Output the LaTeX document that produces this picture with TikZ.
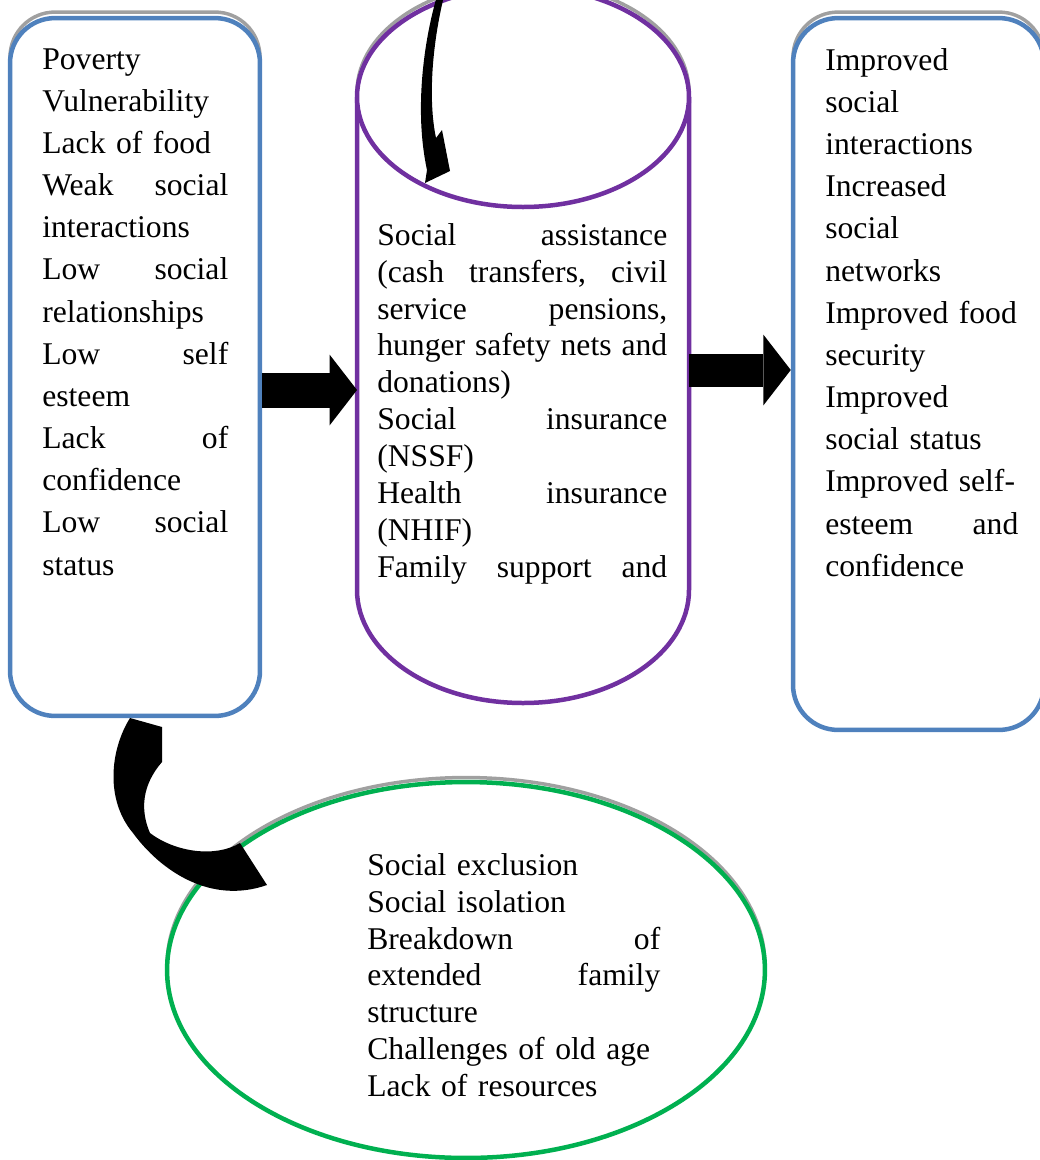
\documentclass[tikz,border=0pt]{standalone}
\usepackage{fontspec}
\setmainfont{Liberation Serif}
\usetikzlibrary{arrows.meta, shadows, shapes.geometric}

\definecolor{boxblue}{HTML}{4F81BD}
\definecolor{progpurple}{HTML}{7030A0}
\definecolor{issuegreen}{HTML}{00B050}
\definecolor{shadowgray}{HTML}{A0A0A0}

\tikzset{
  listbox/.style={draw=boxblue, line width=0.09cm, fill=white, rounded corners=0.9cm, inner sep=0pt,
    general shadow={shadow yshift=0.12cm, draw=shadowgray, line width=0.07cm}},
  issueoval/.style={ellipse, draw=issuegreen, line width=0.09cm, fill=white, inner sep=0pt,
    general shadow={shadow yshift=0.09cm, draw=shadowgray, line width=0.07cm}},
  listtext/.style={anchor=north west, inner sep=0pt, align=left},
  wide/.style={font=\fontsize{18}{24}\selectfont},
  tight/.style={font=\fontsize{18}{21}\selectfont},
  blockarrow/.style={line width=#1, -{Triangle[length=0.55cm, width=1.42cm, line width=0pt]}},
}

\begin{document}
\begin{tikzpicture}[x=0.02cm, y=-0.02cm]
  \useasboundingbox (0,0) rectangle (1039,1160);

  % Boxes:
  \node[listbox, minimum width=5cm, minimum height=13.96cm] (causes) at (135,367) {};
  \node[listbox, minimum width=5.02cm, minimum height=14.24cm] (outcomes) at (918.5,374) {};
  \node[issueoval, minimum width=11.96cm, minimum height=7.52cm] (issues) at (466,970) {};

  % Cylinder:
  \draw[shadowgray, line width=0.07cm] (523,92) ellipse [x radius=166, y radius=110];
  \draw[progpurple, line width=0.09cm, fill=white] (357,97) -- (357,590)
       arc [start angle=180, end angle=0, x radius=166, y radius=113] -- (689,97);
  \draw[progpurple, line width=0.09cm, fill=white] (523,97) ellipse [x radius=166, y radius=110];
  \coordinate (prog west) at (357,390);
  \coordinate (prog east) at (689,370);

  % Texts:
  \node[listtext, wide, text width=3.72cm] (causeslist) at (42,48)
       {Poverty\\ Vulnerability\\ Lack of food\\ Weak\hfill social\\ interactions\\
        Low\hfill social\\ relationships\\ Low\hfill self\\ esteem\\ Lack\hfill of\\
        confidence\\ Low\hfill social\\ status};
  \node[listtext, tight, text width=5.8cm] (proglist) at (377,223)
       {Social\hfill assistance\\ (cash\hfill transfers,\hfill civil\\ service\hfill pensions,\\
        hunger\hfill safety\hfill nets\hfill and\\ donations)\\ Social\hfill insurance\\ (NSSF)\\
        Health\hfill insurance\\ (NHIF)\\ Family\hfill support\hfill and};
  \node[listtext, wide, text width=3.86cm] (outcomeslist) at (825,48)
       {Improved\\ social\\ interactions\\ Increased\\ social\\ networks\\ Improved food\\
        security\\ Improved\\ social status\\ Improved self-\\ esteem\hfill and\\ confidence};
  \node[listtext, tight, text width=5.86cm] (issueslist) at (367,853)
       {Social exclusion\\ Social isolation\\ Breakdown\hfill of\\ extended\hfill family\\
        structure\\ Challenges of old age\\ Lack of resources};

  % Arrows:
  \draw[blockarrow=0.7cm] (causes.east |- prog west) -- (prog west);
  \draw[blockarrow=0.66cm] (prog east) -- (outcomes.west |- prog east);
  \fill (437,-4) .. controls (424,40) and (414,110) .. (427,170) -- (425,183) -- (450,171)
       -- (442,130) -- (436,138) .. controls (428,100) and (432,45) .. (444,-4) -- cycle;
  \fill (130,718) .. controls (110,750) and (105,800) .. (133,833)
       .. controls (160,870) and (210,905) .. (267,885) -- (240,843)
       .. controls (215,858) and (175,852) .. (150,833)
       .. controls (140,810) and (142,785) .. (162,762) -- (162,727) -- cycle;
\end{tikzpicture}
\end{document}
